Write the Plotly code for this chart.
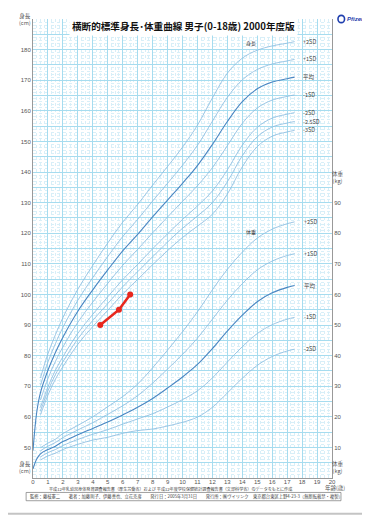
import plotly.graph_objects as go

# ---------------- data ----------------
ages_mean = [0, 0.25, 0.5, 1, 1.5, 2, 3, 4, 5, 6, 7, 8, 9, 10, 11, 12, 13, 14, 15, 16, 17, 17.5]
ages_sd = [0.5, 1, 1.5, 2, 3, 4, 5, 6, 7, 8, 9, 10, 11, 12, 13, 14, 15, 16, 17, 17.5]

height_mean = [49.0, 61.5, 67.9, 75.2, 81.0, 86.0, 94.5, 101.5, 108.0, 114.2, 119.6, 125.3, 130.8, 136.3, 142.1, 149.0, 156.5, 163.0, 167.2, 169.4, 170.5, 171.0]
height_p2 = [72.7, 80.6, 86.8, 92.4, 101.7, 109.5, 116.8, 123.6, 129.4, 135.7, 141.8, 148.1, 155.3, 164.2, 172.3, 177.2, 179.8, 181.2, 182.1, 182.6]
height_p1 = [70.3, 77.9, 83.9, 89.2, 98.1, 105.5, 112.4, 118.9, 124.5, 130.5, 136.3, 142.2, 148.7, 156.6, 164.4, 170.1, 173.5, 175.3, 176.3, 176.8]
height_m1 = [65.5, 72.5, 78.1, 82.8, 90.9, 97.5, 103.6, 109.5, 114.7, 120.1, 125.3, 130.4, 135.5, 141.4, 148.6, 155.9, 160.9, 163.5, 164.7, 165.2]
height_m2 = [63.1, 69.8, 75.2, 79.6, 87.3, 93.5, 99.2, 104.8, 109.8, 114.9, 119.8, 124.5, 128.9, 133.8, 140.7, 148.8, 154.6, 157.6, 158.9, 159.4]
height_m25 = [61.9, 68.5, 73.8, 78.0, 85.5, 91.5, 97.0, 102.5, 107.4, 112.3, 117.1, 121.6, 125.6, 130.0, 136.8, 145.3, 151.5, 154.7, 156.0, 156.5]
height_m3 = [60.7, 67.1, 72.3, 76.4, 83.7, 89.5, 94.8, 100.1, 104.9, 109.7, 114.3, 118.6, 122.3, 126.2, 132.8, 141.7, 148.3, 151.7, 153.1, 153.6]

weight_mean = [3.0, 6.2, 7.9, 9.3, 10.4, 11.9, 14.1, 16.2, 18.3, 20.6, 23.1, 26.0, 29.4, 33.0, 37.1, 42.3, 48.0, 53.2, 57.6, 60.5, 62.3, 62.9]
weight_p2 = [9.9, 11.4, 12.7, 14.5, 17.2, 20.0, 23.3, 26.6, 30.7, 36.0, 41.8, 47.8, 54.3, 61.5, 68.2, 73.8, 78.4, 81.3, 83.1, 83.7]
weight_p1 = [8.9, 10.4, 11.6, 13.2, 15.7, 18.1, 20.8, 23.6, 26.9, 31.0, 35.6, 40.4, 45.7, 51.9, 58.1, 63.5, 68.0, 70.9, 72.7, 73.3]
weight_m1 = [6.9, 8.3, 9.3, 10.6, 12.6, 14.3, 15.8, 17.6, 19.3, 21.0, 23.2, 25.6, 28.5, 32.7, 37.9, 42.9, 47.2, 50.1, 51.9, 52.5]
weight_m2 = [5.9, 7.2, 8.1, 9.3, 11.0, 12.4, 13.3, 14.6, 15.5, 16.0, 17.0, 18.2, 19.9, 23.1, 27.8, 32.6, 36.8, 39.7, 41.5, 42.1]

child_ages = [4.5, 5.75, 6.5]
child_heights = [90, 95, 100]

height_labels = ["+2SD", "+1SD", "平均", "-1SD", "-2SD", "-2.5SD", "-3SD"]
weight_labels = ["+2SD", "+1SD", "平均", "-1SD", "-2SD"]

x_ticks = list(range(0, 21))
h_ticks = list(range(40, 191, 5))
h_ticktext = [str(v) if (v % 10 == 0 and 50 <= v <= 180) else "" for v in h_ticks]
w_ticks = list(range(10, 91, 10))

title = "横断的標準身長･体重曲線 男子(0-18歳) 2000年度版"
source = "平成12年乳幼児身体発育調査報告書（厚生労働省）および 平成12年度学校保健統計調査報告書（文部科学省）のデータをもとに作成"
credit = "監修：藤枝憲二　　著者：加藤則子、伊藤善也、立花克彦　　発行日：2005年3月31日　　発行所：㈱ヴイリンク　東京都台東区上野4-23-3（無断転載禁・複製）"

# ---------------- styling ----------------
FONT = "Liberation Sans, Noto Sans CJK JP, sans-serif"
CJK = "Noto Sans CJK JP, sans-serif"
MEAN_C = "#4a86c2"
SD_C = "#8dbde0"
TXT = "#555555"

fig = go.Figure()

h_series = [(ages_sd, height_p2), (ages_sd, height_p1), (ages_mean, height_mean),
            (ages_sd, height_m1), (ages_sd, height_m2), (ages_sd, height_m25), (ages_sd, height_m3)]
for (xs, ys), lab in zip(h_series, height_labels):
    is_mean = lab == "平均"
    fig.add_trace(go.Scatter(x=xs, y=ys, mode="lines", yaxis="y",
                             line=dict(color=MEAN_C if is_mean else SD_C, width=1.1 if is_mean else 0.85,
                                       shape="spline", smoothing=1.0),
                             showlegend=False, hoverinfo="skip"))

w_series = [(ages_sd, weight_p2), (ages_sd, weight_p1), (ages_mean, weight_mean),
            (ages_sd, weight_m1), (ages_sd, weight_m2)]
for (xs, ys), lab in zip(w_series, weight_labels):
    is_mean = lab == "平均"
    fig.add_trace(go.Scatter(x=xs, y=ys, mode="lines", yaxis="y2",
                             line=dict(color=MEAN_C if is_mean else SD_C, width=1.1 if is_mean else 0.85,
                                       shape="spline", smoothing=1.0),
                             showlegend=False, hoverinfo="skip"))

fig.add_trace(go.Scatter(x=child_ages, y=child_heights, mode="lines+markers", yaxis="y",
                         line=dict(color="#e8281e", width=2.6),
                         marker=dict(color="#e8281e", size=6),
                         showlegend=False))

ann = []
for (xs, ys), lab in zip(h_series, height_labels):
    ann.append(dict(x=xs[-1], y=ys[-1], xref="x", yref="y", text=lab, showarrow=False,
                    xanchor="left", xshift=6, font=dict(size=5.5, color="#444", family=CJK)))
for (xs, ys), lab in zip(w_series, weight_labels):
    ann.append(dict(x=xs[-1], y=ys[-1], xref="x", yref="y2", text=lab, showarrow=False,
                    xanchor="left", xshift=7, font=dict(size=5.5, color="#444", family=CJK)))
ann.append(dict(x=14.6, y=182, xref="x", yref="y", text="身長", showarrow=False,
                font=dict(size=5, color="#444", family=CJK)))
ann.append(dict(x=14.6, y=80.5, xref="x", yref="y2", text="体重", showarrow=False,
                font=dict(size=5, color="#444", family=CJK)))

# axis name labels (paper coordinates)
ann += [
    dict(x=-0.028, y=1.0, xref="paper", yref="paper", text="身長<br>(cm)", showarrow=False,
         font=dict(size=5.5, color=TXT, family=CJK), xanchor="center", yanchor="middle"),
    dict(x=-0.028, y=0.022, xref="paper", yref="paper", text="身長<br>(cm)", showarrow=False,
         font=dict(size=5.5, color=TXT, family=CJK), xanchor="center", yanchor="middle"),
    dict(x=1.02, y=0.655, xref="paper", yref="paper", text="体重<br>(kg)", showarrow=False,
         font=dict(size=5.5, color=TXT, family=CJK), xanchor="center", yanchor="middle"),
    dict(x=1.02, y=0.022, xref="paper", yref="paper", text="体重<br>(kg)", showarrow=False,
         font=dict(size=5.5, color=TXT, family=CJK), xanchor="center", yanchor="middle"),
    dict(x=1.01, y=-0.021, xref="paper", yref="paper", text="年齢(歳)", showarrow=False,
         font=dict(size=5.5, color=TXT, family=CJK), xanchor="center", yanchor="middle"),
    dict(x=0.505, y=0.984, xref="paper", yref="paper", text="<b>" + title + "</b>", showarrow=False,
         font=dict(size=9.6, color="#111", family=CJK), xanchor="center", yanchor="middle",
         bgcolor="white", borderpad=2),
    dict(x=1.045, y=1.0, xref="paper", yref="paper", text="<b><i>Pfizer</i></b>", showarrow=False,
         font=dict(size=6, color="#1f3fae", family=FONT), xanchor="left", yanchor="middle"),
    dict(x=0.46, y=-0.0235, xref="paper", yref="paper", text=source, showarrow=False,
         font=dict(size=4.1, color="#444", family=CJK), xanchor="center", yanchor="middle"),
    dict(x=-0.018, y=-0.0410, xref="paper", yref="paper", text=credit, showarrow=False,
         font=dict(size=4.3, color="#444", family=CJK), xanchor="left", yanchor="middle"),
]

shapes = [
    # page border (right and bottom edges; page origin is offset by the browser body margin)
    dict(type="line", xref="paper", yref="paper", x0=1.1254, x1=1.1254, y0=-0.08, y1=1.03,
         line=dict(color="#c4c4c4", width=2)),
    dict(type="line", xref="paper", yref="paper", x0=-0.09, x1=1.13, y0=-0.0777, y1=-0.0777,
         line=dict(color="#c4c4c4", width=2)),
    # Pfizer swirl mark
    dict(type="circle", xref="paper", yref="paper", x0=1.020, x1=1.042, y0=0.992, y1=1.008,
         line=dict(color="#1f3fae", width=1.6)),
    # credit box
    dict(type="rect", xref="paper", yref="paper", x0=-0.023, x1=1.03, y0=-0.0495, y1=-0.0315,
         line=dict(color="#777", width=0.7)),
]

# The page body adds an 8px offset at the top-left, so the figure is sized to fill the
# remaining 362x507 area and its margins are reduced accordingly.
fig.update_layout(
    width=362, height=507,
    margin=dict(l=25, r=38, t=11, b=37, autoexpand=False),
    paper_bgcolor="white", plot_bgcolor="white",
    font=dict(family=FONT, size=6, color=TXT),
    showlegend=False,
    annotations=ann, shapes=shapes,
    xaxis=dict(range=[0, 20], tickmode="array", tickvals=x_ticks, ticktext=[str(v) for v in x_ticks],
               showgrid=True, gridcolor="#a6dcef", gridwidth=1,
               minor=dict(dtick=0.25, showgrid=True, gridcolor="#d8eff8", griddash="dot", gridwidth=1),
               showline=True, linecolor="#999", linewidth=1, zeroline=False, automargin=False,
               tickfont=dict(size=6, color=TXT), ticks="", ticklabelstandoff=-2, fixedrange=True),
    yaxis=dict(range=[40, 190], tickmode="array", tickvals=h_ticks, ticktext=h_ticktext,
               showgrid=True, gridcolor="#a6dcef", gridwidth=1,
               minor=dict(dtick=1, showgrid=True, gridcolor="#d8eff8", griddash="dot", gridwidth=1),
               showline=True, linecolor="#999", linewidth=1, zeroline=False, automargin=False,
               tickfont=dict(size=6, color=TXT), ticks="", ticklabelstandoff=0),
    yaxis2=dict(range=[0, 150], overlaying="y", side="right", tickmode="array", tickvals=w_ticks,
                ticktext=[str(v) for v in w_ticks], showgrid=False, zeroline=False, automargin=False,
                showline=True, linecolor="#999", linewidth=1,
                tickfont=dict(size=6, color=TXT), ticks="", ticklabelstandoff=0),
)

fig.write_html("out.html")
